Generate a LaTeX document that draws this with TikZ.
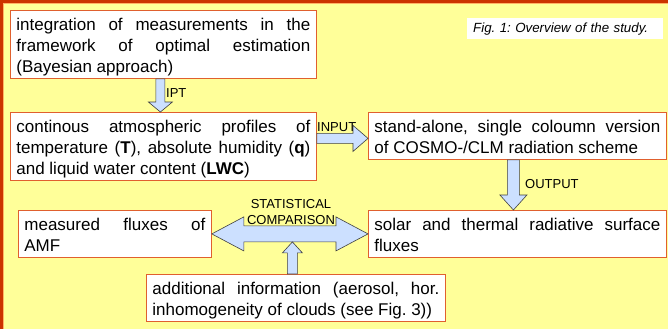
\documentclass[tikz,border=0pt]{standalone}
\usepackage{fontspec}
\setmainfont{Liberation Sans}
\usetikzlibrary{calc}
\frenchspacing
\definecolor{bgyellow}{HTML}{FFFF99}
\definecolor{framered}{HTML}{CC3300}
\definecolor{frameinner}{HTML}{FFB266}
\definecolor{boxborder}{HTML}{E0602E}
\definecolor{arrowblue}{HTML}{CCE0FF}
\tikzset{
  textbox/.style={draw=boxborder, fill=white, line width=0.8pt, anchor=north west,
    inner xsep=6pt, inner ysep=2pt, align=justify, font=\fontsize{17}{21}\selectfont,
    execute at begin node={\tolerance=10000\hbadness=10000\rule{0pt}{18pt}},
    execute at end node={\rule[-4pt]{0pt}{4pt}}},
  blockarrow/.style={fill=arrowblue, draw=black!75, line width=0.6pt, line join=miter},
  arrowlabel/.style={inner sep=0pt, font=\fontsize{13}{16}\selectfont},
  figcap/.style={fill=white, anchor=north west, minimum width=196pt, minimum height=21pt,
    text width=184pt, inner xsep=6pt, inner ysep=0pt, align=left,
    font=\fontsize{13.3}{16}\selectfont\itshape}
}
\newcommand{\vblockarrow}[5]{%
  \draw[blockarrow] let \p1=(#1), \p2=(#2) in
    ({\x1-#3},\y1) -- ({\x1+#3},\y1) -- ({\x1+#3},{\y2+(#5)}) -- ({\x1+#4},{\y2+(#5)})
    -- (\x1,\y2) -- ({\x1-#4},{\y2+(#5)}) -- ({\x1-#3},{\y2+(#5)}) -- cycle;}
\newcommand{\hblockarrow}[5]{%
  \draw[blockarrow] let \p1=(#1), \p2=(#2) in
    (\x1,{\y2+#3}) -- ({\x2-#5},{\y2+#3}) -- ({\x2-#5},{\y2+#4}) -- (\x2,\y2)
    -- ({\x2-#5},{\y2-#4}) -- ({\x2-#5},{\y2-#3}) -- (\x1,{\y2-#3}) -- cycle;}
\newcommand{\dblblockarrow}[5]{%
  \draw[blockarrow] let \p1=(#1), \p2=(#2) in
    (\x1,\y1) -- ({\x1+#5},{\y1+#4}) -- ({\x1+#5},{\y1+#3}) -- ({\x2-#5},{\y1+#3})
    -- ({\x2-#5},{\y1+#4}) -- (\x2,\y1) -- ({\x2-#5},{\y1-#4}) -- ({\x2-#5},{\y1-#3})
    -- ({\x1+#5},{\y1-#3}) -- ({\x1+#5},{\y1-#4}) -- cycle;}
\begin{document}
\begin{tikzpicture}[x=1pt,y=1pt]
\useasboundingbox (0,0) rectangle (668,-329);
\fill[bgyellow] (0,0) rectangle (668,-329);
\draw[framered, line width=3pt] (1.5,-329) -- (1.5,-1.5) -- (668,-1.5);
\draw[frameinner, line width=1pt] (3.5,-329) -- (3.5,-3.5) -- (668,-3.5);
\node[figcap] (caption) at (467,-18) {Fig. 1: Overview of the study.};
\node[textbox, text width=294pt] (estim) at (10,-10)
  {integration of measurements in the\linebreak framework of optimal estimation\linebreak (Bayesian approach)};
\node[textbox, text width=294pt] (profiles) at (10,-112)
  {continous atmospheric profiles of\linebreak temperature (\textbf{T}), absolute humidity (\textbf{q})\linebreak and liquid water content (\textbf{LWC})};
\node[textbox, text width=286pt] (scheme) at (368,-112)
  {stand-alone, single coloumn version\linebreak of COSMO-/CLM radiation scheme};
\node[textbox, text width=286pt] (fluxes) at (368,-210)
  {solar and thermal radiative surface\linebreak fluxes};
\node[textbox, text width=181pt] (amf) at (18,-210)
  {measured fluxes of\linebreak AMF};
\node[textbox, text width=287pt] (addinfo) at (146,-274)
  {additional information (aerosol, hor.\linebreak inhomogeneity of clouds (see Fig. 3))};
\vblockarrow{$(estim.south)+(-3,0)$}{profiles.north}{4.5pt}{12pt}{10pt}
\hblockarrow{profiles.east}{$(scheme.west)+(0,-2.5)$}{5pt}{13pt}{15pt}
\vblockarrow{$(scheme.south)+(-4,0)$}{fluxes.north}{6pt}{13.5pt}{15pt}
\dblblockarrow{amf.east}{fluxes.west}{8pt}{17pt}{32pt}
\coordinate (cmpbot) at ($(amf.east)+(0,-8)$);
\vblockarrow{$(addinfo.north)+(-3.5,0)$}{cmpbot}{5pt}{10pt}{-11pt}
\node[arrowlabel, anchor=base west] (ipt) at (166,-97) {IPT};
\node[arrowlabel, anchor=base west] (input) at (317,-131) {INPUT};
\node[arrowlabel, anchor=base west] (output) at (525,-188) {OUTPUT};
\node[arrowlabel, align=center, anchor=south] (cmp) at (291,-225) {STATISTICAL\\COMPARISON};
\end{tikzpicture}
\end{document}
